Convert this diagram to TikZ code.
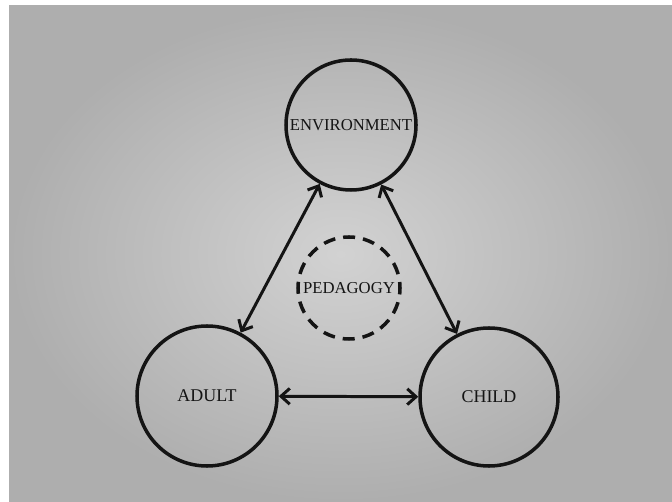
\documentclass[tikz,border=0pt]{standalone}
\usepackage{fontspec}
\setmainfont{Liberation Serif}
\usetikzlibrary{arrows.meta, positioning}

\definecolor{ink}{HTML}{141414}
\definecolor{paperin}{HTML}{D2D2D2}
\definecolor{paperout}{HTML}{AEAEAE}

\begin{document}
\begin{tikzpicture}[x=0.02cm, y=-0.02cm,
  every node/.style={text=ink},
  sphere/.style={draw=ink, circle, line width=2pt, inner sep=0pt},
  link/.style={draw=ink, line width=1.7pt, {Straight Barb[length=5pt, width=9pt]}-{Straight Barb[length=5pt, width=9pt]}}]
% Page
\useasboundingbox (0,0) rectangle (672,502);
\fill[white] (0,0) rectangle (672,502);
\shade[inner color=paperin, outer color=paperout] (9,6) rectangle (672,502);

% Nodes
\node[sphere, minimum size=130*0.02cm, font=\fontsize{9.5}{11}\selectfont] (env) at (351,125) {ENVIRONMENT};
\node[sphere, minimum size=140*0.02cm, font=\fontsize{10.2}{12}\selectfont] (adult) at (207,396) {ADULT};
\node[sphere, minimum size=138*0.02cm, font=\fontsize{10.2}{12}\selectfont] (child) at (489,397) {CHILD};
\node[sphere, minimum size=102*0.02cm, font=\fontsize{9.5}{11}\selectfont,
  dash pattern=on 0.24cm off 0.16cm, dash phase=0.12cm] (ped) at (349,288) {PEDAGOGY};

% Arrows
\draw[link] (env) -- (adult);
\draw[link] (env) -- (child);
\draw[link] (adult) -- (child);
\end{tikzpicture}
\end{document}
